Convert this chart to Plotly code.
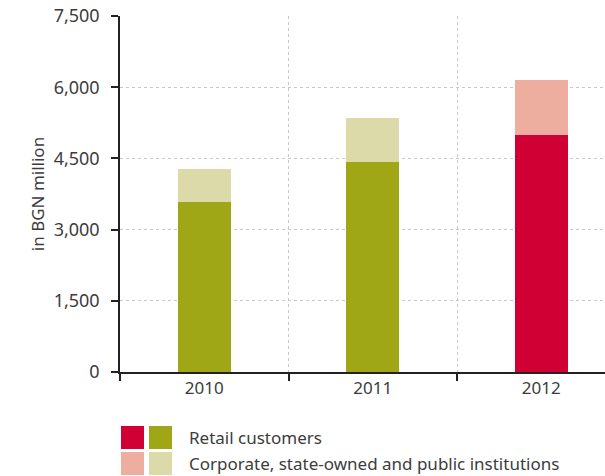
import plotly.graph_objects as go

years = ["2010", "2011", "2012"]
retail = [3590, 4415, 4990]
corporate = [677, 931, 1160]
retail_colors = ["#9fa717", "#9fa717", "#d10034"]
corporate_colors = ["#dcdaa9", "#dcdaa9", "#edaea0"]
legend_labels = ["Retail customers", "Corporate, state-owned and public institutions"]
y_ticks = [0, 1500, 3000, 4500, 6000, 7500]

FONT = "Noto Sans"
TXT = "#3c3c3c"

fig = go.Figure()
fig.add_trace(go.Bar(x=years, y=retail, marker=dict(color=retail_colors, line_width=0),
                     width=0.315, name=legend_labels[0], showlegend=False))
fig.add_trace(go.Bar(x=years, y=corporate, marker=dict(color=corporate_colors, line_width=0),
                     width=0.315, name=legend_labels[1], showlegend=False))

fig.update_layout(
    width=605, height=476,
    margin=dict(l=120, r=0, t=16, b=104),
    barmode="stack",
    plot_bgcolor="white", paper_bgcolor="white",
    font=dict(family=FONT, size=17, color=TXT),
    xaxis=dict(
        type="category", range=[-0.5, 2.378], tickson="boundaries", automargin=False,
        showgrid=True, gridcolor="#c8c8c8", griddash="dot", gridwidth=1,
        showline=True, linecolor="#222", linewidth=1.5,
        ticks="outside", ticklen=7, tickcolor="#222", tickwidth=1.5,
        tickfont=dict(size=17, color=TXT), fixedrange=True,
    ),
    yaxis=dict(
        range=[0, 7500], tickvals=y_ticks, tickformat=",", automargin=False,
        showgrid=True, gridcolor="#c8c8c8", griddash="dot", gridwidth=1,
        showline=True, linecolor="#222", linewidth=1.5,
        ticks="outside", ticklen=7, tickcolor="#222", tickwidth=1.5,
        ticklabelstandoff=8, zeroline=False, fixedrange=True,
        tickfont=dict(size=18, color=TXT),
        title=dict(text="in BGN million", font=dict(size=17, color=TXT), standoff=5),
    ),
)

# custom legend: two swatches per row
sw = 23
rows = [(426, retail_colors[2], retail_colors[0], legend_labels[0]),
        (452, corporate_colors[2], corporate_colors[0], legend_labels[1])]
for top, c1, c2, label in rows:
    for x0, col in ((121, c1), (149, c2)):
        fig.add_shape(type="rect", xref="paper", yref="paper",
                      x0=(x0 - 120) / 485, x1=(x0 + sw - 120) / 485,
                      y0=(372 - top) / 356, y1=(372 - top - sw) / 356,
                      fillcolor=col, line_width=0)
    fig.add_annotation(xref="paper", yref="paper", x=(187 - 120) / 485,
                       y=(372 - top - sw / 2) / 356, text=label, showarrow=False,
                       xanchor="left", yanchor="middle",
                       font=dict(family=FONT, size=17, color=TXT))

fig.write_html("out.html", config={"displayModeBar": False},
               post_script="document.body.style.margin='0';")
